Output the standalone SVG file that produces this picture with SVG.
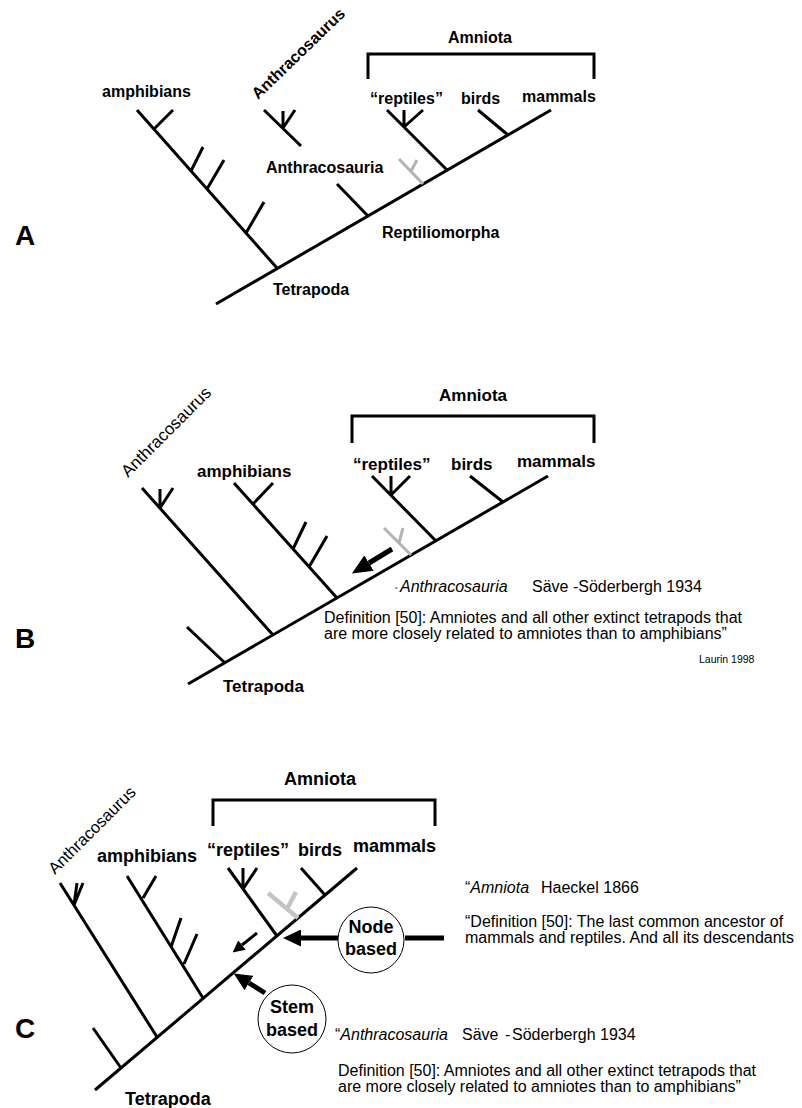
<svg xmlns="http://www.w3.org/2000/svg" width="802" height="1108" viewBox="0 0 802 1108">
<style>
text{font-family:"Liberation Sans",Arial,Helvetica,sans-serif;fill:#000}
.b{font-weight:bold}
.a{font-size:16px}
.bb{font-size:17px}
.c{font-size:18px}
.t{font-size:16px}
.i{font-style:italic}
.pl{font-size:28px;font-weight:bold}
.ln{stroke:#000;stroke-width:3;fill:none;stroke-linecap:butt}
.gr{stroke:#b3b3b3;stroke-width:3;fill:none}
.gr4{stroke:#c4c4c4;stroke-width:4.5;fill:none}
.ar{stroke:#000;stroke-width:5;fill:none}
.ars{stroke:#000;stroke-width:3;fill:none}
.circ{fill:#fff;stroke:#000;stroke-width:1}
</style>
<defs>
<marker id="ahL" viewBox="0 0 20 18" refX="0" refY="9" markerWidth="20" markerHeight="18" markerUnits="userSpaceOnUse" orient="auto"><path d="M0,0 L20,9 L0,18 z" fill="#000"/></marker>
<marker id="ahM" viewBox="0 0 18 17" refX="0" refY="8.5" markerWidth="18" markerHeight="17" markerUnits="userSpaceOnUse" orient="auto"><path d="M0,0 L18,8.5 L0,17 z" fill="#000"/></marker>
<marker id="ahS" viewBox="0 0 12 12" refX="0" refY="6" markerWidth="12" markerHeight="12" markerUnits="userSpaceOnUse" orient="auto"><path d="M0,0 L12,6 L0,12 z" fill="#000"/></marker>
</defs>
<rect width="802" height="1108" fill="#fff"/>

<g id="connectors">
<!-- Panel A -->
<path class="ln" d="M216,304 L551,110"/>
<path class="ln" d="M277,268 L137,110 M154,129 L173,110 M191,171 L203,147 M207,189 L224,160 M246,233 L264,202"/>
<path class="ln" d="M368,216 L337,184"/>
<path class="ln" d="M264,110 L301,146 M283,128 L283,111 M283,128 L295,110"/>
<path class="ln" d="M447,170 L387,110 M404,127 L404,110 M404,127 L423,110"/>
<path class="ln" d="M508,135 L478,110"/>
<path class="gr" d="M423,184 L399,159 M411,171 L417,160"/>
<path class="ln" d="M368,79 V54 H594 V79"/>
<!-- Panel B -->
<path class="ln" d="M188,684 L548,476"/>
<path class="ln" d="M225,663 L187,627"/>
<path class="ln" d="M273,635 L142,488 M160,508 L160,489 M160,508 L173,488"/>
<path class="ln" d="M337,598 L234,483 M253,504 L273,483 M293,549 L306,522 M309,567 L327,536"/>
<path class="ln" d="M436,541 L372,476 M391,495 L391,476 M391,495 L410,476"/>
<path class="ln" d="M503,502 L470,476"/>
<path class="gr" d="M411,555 L384,528 M399,543 L403,528"/>
<path class="ln" d="M352,443 V416 H594 V443"/>
<path class="ar" d="M392,549 L369,563" marker-end="url(#ahL)"/>
<!-- Panel C -->
<path class="ln" d="M95,1090 L357,868"/>
<path class="ln" d="M121,1068 L93,1028"/>
<path class="ln" d="M157,1037 L60,883 M74,905 L77,883 M74,905 L83,883"/>
<path class="ln" d="M203,998 L127,876 M143,898 L156,876 M171,947 L181,918 M184,964 L197,934"/>
<path class="ln" d="M277,936 L228,868 M243,889 L243,868 M243,889 L257,868"/>
<path class="ln" d="M325,895 L301,868"/>
<path class="gr4" d="M298,918 L268,893 M287,909 L296,892"/>
<path class="ln" d="M213,826 V800 H435 V826"/>
<path class="ars" d="M257,933 L242,945" marker-end="url(#ahS)"/>
<path class="ar" d="M338,938 L301,938" marker-end="url(#ahM)"/>
<path class="ar" d="M405,938 L444,938"/>
<path class="ar" d="M265,993 L249,983" marker-end="url(#ahM)"/>
</g>

<g id="panel-A">
<text class="pl" x="15" y="245">A</text>
<g id="a-amphibians"><text class="b a" x="102" y="97">amphibians</text></g>
<g id="a-anthracosaurus"><text class="b a" transform="translate(258,100) rotate(-44)">Anthracosaurus</text></g>
<g id="a-anthracosauria"><text class="b a" x="266" y="173">Anthracosauria</text></g>
<g id="a-reptiliomorpha"><text class="b a" x="382" y="238">Reptiliomorpha</text></g>
<g id="a-tetrapoda"><text class="b a" x="273" y="295">Tetrapoda</text></g>
<g id="a-amniota"><text class="b a" x="480" y="43" text-anchor="middle">Amniota</text></g>
<g id="a-reptiles"><text class="b a" x="370" y="104">“reptiles”</text></g>
<g id="a-birds"><text class="b a" x="461" y="104">birds</text></g>
<g id="a-mammals"><text class="b a" x="522" y="102">mammals</text></g>
</g>

<g id="panel-B">
<text class="pl" x="15" y="648">B</text>
<g id="b-anthracosaurus"><text class="bb" transform="translate(128,478) rotate(-45)">Anthracosaurus</text></g>
<g id="b-amphibians"><text class="b bb" x="197" y="477">amphibians</text></g>
<g id="b-tetrapoda"><text class="b bb" x="223" y="692">Tetrapoda</text></g>
<g id="b-amniota"><text class="b bb" x="473" y="401" text-anchor="middle">Amniota</text></g>
<g id="b-reptiles"><text class="b bb" x="353" y="470">“reptiles”</text></g>
<g id="b-birds"><text class="b bb" x="451" y="470">birds</text></g>
<g id="b-mammals"><text class="b bb" x="517" y="467">mammals</text></g>
<g id="b-def">
<text class="t" y="592"><tspan x="395" font-size="8">“</tspan><tspan x="400" class="i">Anthracosauria</tspan><tspan x="532">Säve -Söderbergh 1934</tspan></text>
<text class="t" x="324" y="623">Definition [50]: Amniotes and all other extinct tetrapods that</text>
<text class="t" x="324" y="639">are more closely related to amniotes than to amphibians”</text>
<text x="699" y="663" font-size="10.5">Laurin 1998</text>
</g>
</g>

<g id="panel-C">
<text class="pl" x="15" y="1038">C</text>
<g id="c-anthracosaurus"><text style="font-size:16.5px" transform="translate(55,875) rotate(-45)">Anthracosaurus</text></g>
<g id="c-amphibians"><text class="b c" x="97" y="862">amphibians</text></g>
<g id="c-tetrapoda"><text class="b c" x="125" y="1105">Tetrapoda</text></g>
<g id="c-amniota"><text class="b c" x="320" y="785" text-anchor="middle">Amniota</text></g>
<g id="c-reptiles"><text class="b c" x="207" y="856">“reptiles”</text></g>
<g id="c-birds"><text class="b c" x="298" y="856">birds</text></g>
<g id="c-mammals"><text class="b c" x="353" y="852">mammals</text></g>
<g id="c-node-based">
<circle class="circ" cx="371" cy="940" r="33"/>
<text class="b c" x="371" y="933" text-anchor="middle">Node</text>
<text class="b c" x="371" y="955" text-anchor="middle">based</text>
</g>
<g id="c-stem-based">
<circle class="circ" cx="292" cy="1019" r="34"/>
<text class="b c" x="292" y="1013" text-anchor="middle">Stem</text>
<text class="b c" x="292" y="1036" text-anchor="middle">based</text>
</g>
<g id="c-amniota-def">
<text class="t" y="893"><tspan x="465">“</tspan><tspan class="i">Amniota</tspan><tspan x="541">Haeckel 1866</tspan></text>
<text class="t" x="465" y="927">“Definition [50]: The last common ancestor of</text>
<text class="t" x="465" y="943">mammals and reptiles. And all its descendants</text>
</g>
<g id="c-anthracosauria-def">
<text class="t" y="1040"><tspan x="335">“</tspan><tspan class="i">Anthracosauria</tspan><tspan x="462">Säve</tspan><tspan x="505">-</tspan><tspan x="512">Söderbergh 1934</tspan></text>
<text class="t" x="338" y="1076">Definition [50]: Amniotes and all other extinct tetrapods that</text>
<text class="t" x="338" y="1092">are more closely related to amniotes than to amphibians”</text>
</g>
</g>
</svg>
